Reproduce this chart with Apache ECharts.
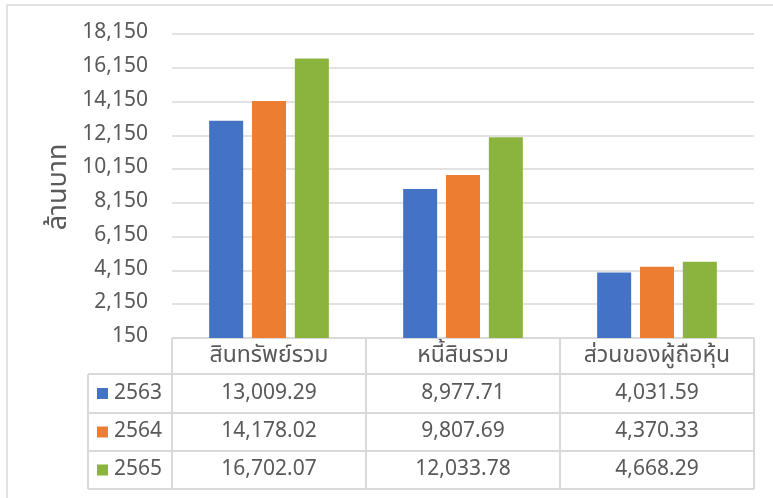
<!DOCTYPE html>
<html>
<head>
<meta charset="utf-8">
<script src="https://cdn.jsdelivr.net/npm/echarts@6/dist/echarts.min.js"></script>
<style>
html,body{margin:0;padding:0;background:#fff;}
#c{width:773px;height:498px;}
</style>
</head>
<body>
<div id="c"></div>
<script>
// ---- data ----
const categories = ['สินทรัพย์รวม', 'หนี้สินรวม', 'ส่วนของผู้ถือหุ้น'];
const seriesNames = ['2563', '2564', '2565'];
const values2563 = [13009.29, 8977.71, 4031.59];
const values2564 = [14178.02, 9807.69, 4370.33];
const values2565 = [16702.07, 12033.78, 4668.29];
const seriesColors = ['#4472C4', '#ED7D31', '#8BB43F'];
const yAxisTitle = 'ล้านบาท';
const yMin = 150, yMax = 18150, yInterval = 2000;

const allValues = [values2563, values2564, values2565];
const FONT = '"Noto Sans Thai", "Noto Sans", "DejaVu Sans", "Liberation Sans", sans-serif';
const TXT = '#595959';
const LINE = '#D9D9D9';

// layout
const W = 773, H = 498;
const gridL = 172, gridR = 754, gridT = 34, gridB = 338;
const tableL = 88;
const rowYs = [338, 374, 413, 451, 489];
const colW = (gridR - gridL) / categories.length;

function fmt(v) {
  return v.toLocaleString('en-US', {minimumFractionDigits: 2, maximumFractionDigits: 2});
}

const graphics = [];
// outer chart border
graphics.push({type: 'rect', shape: {x: 7, y: 5, width: W + 20, height: H + 20},
  style: {fill: 'none', stroke: LINE, lineWidth: 1.5}, silent: true, z: 0});
// horizontal table lines
rowYs.forEach((y, i) => {
  graphics.push({type: 'line', shape: {x1: i === 0 ? gridL : tableL, y1: y, x2: gridR, y2: y},
    style: {stroke: LINE, lineWidth: 2}, silent: true});
});
// vertical table lines
graphics.push({type: 'line', shape: {x1: tableL, y1: rowYs[1], x2: tableL, y2: rowYs[4]},
  style: {stroke: LINE, lineWidth: 2}, silent: true});
for (let c = 0; c <= categories.length; c++) {
  const x = gridL + c * colW;
  graphics.push({type: 'line', shape: {x1: x, y1: rowYs[0], x2: x, y2: rowYs[4]},
    style: {stroke: LINE, lineWidth: 2}, silent: true});
}
// header texts
categories.forEach((cat, c) => {
  graphics.push({type: 'text', x: gridL + (c + 0.5) * colW, y: (rowYs[0] + rowYs[1]) / 2 + 1,
    style: {text: cat, fill: TXT, font: '23px ' + FONT, align: 'center', verticalAlign: 'middle'}, silent: true});
});
// rows
seriesNames.forEach((name, r) => {
  const cy = (rowYs[r + 1] + rowYs[r + 2]) / 2;
  graphics.push({type: 'rect', shape: {x: 97, y: cy - 5.5, width: 11, height: 11},
    style: {fill: seriesColors[r]}, silent: true});
  graphics.push({type: 'text', x: 114, y: cy + 1,
    style: {text: name, fill: TXT, font: '21px ' + FONT, align: 'left', verticalAlign: 'middle'}, silent: true});
  allValues[r].forEach((v, c) => {
    graphics.push({type: 'text', x: gridL + (c + 0.5) * colW, y: cy + 1,
      style: {text: fmt(v), fill: TXT, font: '21px ' + FONT, align: 'center', verticalAlign: 'middle'}, silent: true});
  });
});
// y axis title
graphics.push({type: 'text', x: 61, y: 187, rotation: Math.PI / 2,
  style: {text: yAxisTitle, fill: TXT, font: '27px ' + FONT, align: 'center', verticalAlign: 'middle'}, silent: true});

const chart = echarts.init(document.getElementById('c'), null, {renderer: 'canvas'});
chart.setOption({
  animation: false,
  backgroundColor: '#fff',
  grid: {left: gridL, right: W - gridR, top: gridT, bottom: H - gridB, containLabel: false},
  xAxis: {
    type: 'category', data: categories,
    axisLine: {show: false}, axisTick: {show: false}, axisLabel: {show: false}
  },
  yAxis: {
    type: 'value', min: yMin, max: yMax, interval: yInterval,
    axisLine: {show: false}, axisTick: {show: false},
    axisLabel: {color: TXT, fontSize: 21, fontFamily: FONT, margin: 24,
      formatter: v => v.toLocaleString('en-US')},
    splitLine: {lineStyle: {color: LINE, width: 1.5}}
  },
  series: seriesNames.map((name, i) => ({
    name, type: 'bar', data: allValues[i], barWidth: 34, barGap: '26%',
    itemStyle: {color: seriesColors[i]}
  })),
  graphic: graphics
});
</script>
</body>
</html>
